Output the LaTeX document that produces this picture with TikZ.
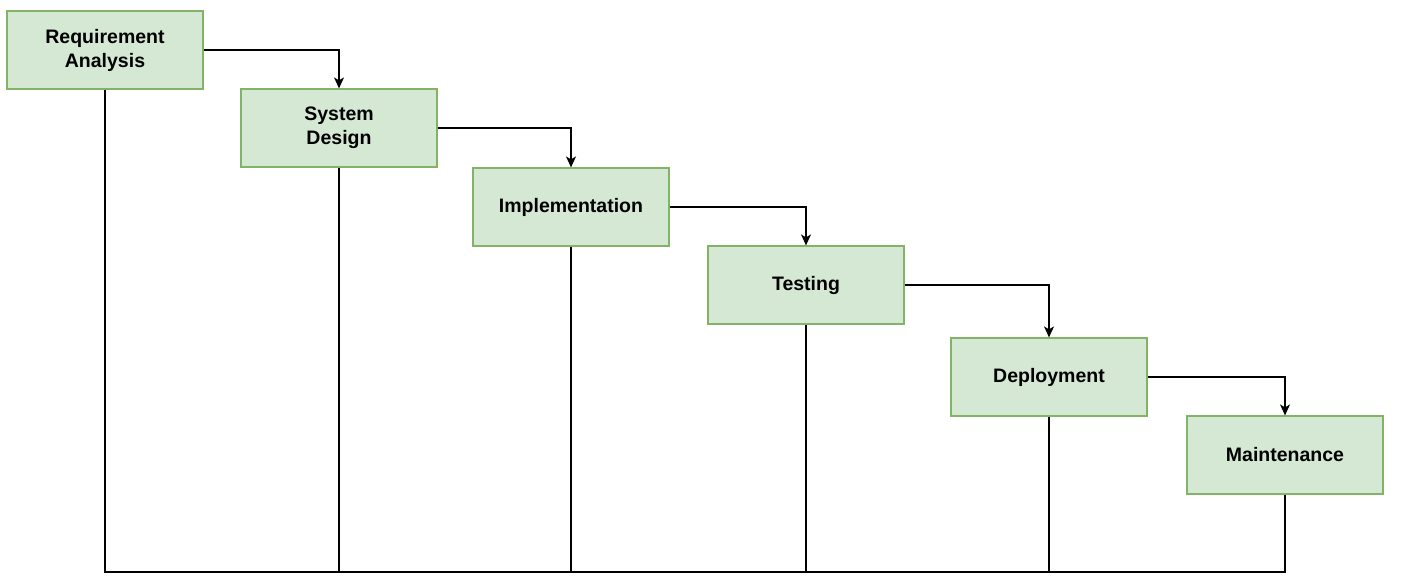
\documentclass[tikz,border=0pt]{standalone}
\usepackage{fontspec}
\setmainfont{Liberation Sans}
\usetikzlibrary{arrows.meta}
\begin{document}
\begin{tikzpicture}[x=0.5pt, y=-0.5pt, line width=0.65pt,
    phase/.style={draw={rgb,255:red,130;green,179;blue,102},
      fill={rgb,255:red,213;green,232;blue,212}, line width=0.6pt,
      minimum width=98pt, minimum height=39pt, align=center,
      font=\fontsize{9.75}{12}\selectfont\bfseries},
    flow/.style={-{Stealth[length=5.5pt, width=5pt, inset=1.5pt]}}]
    \useasboundingbox (0,0) rectangle (1401,584);
    \node[phase] (req)  at (105,50)  {Requirement\\Analysis};
    \node[phase] (sys)  at (339,128) {System\\Design};
    \node[phase] (impl) at (571,207) {Implementation};
    \node[phase] (test) at (806,285) {Testing};
    \node[phase] (depl) at (1049,377) {Deployment};
    \node[phase] (mnt)  at (1285,455) {Maintenance};
    \coordinate (bottom) at (105,572);
    % flow from phase to phase
    \foreach \a/\b in {req/sys, sys/impl, impl/test, test/depl, depl/mnt}
        \draw[flow] (\a.east) -| (\b.north);
    % lines down to the base
    \draw (req.south) |- (mnt.south |- bottom) -- (mnt.south);
    \foreach \p in {sys, impl, test, depl}
        \draw (\p.south) -- (\p.south |- bottom);
\end{tikzpicture}
\end{document}
